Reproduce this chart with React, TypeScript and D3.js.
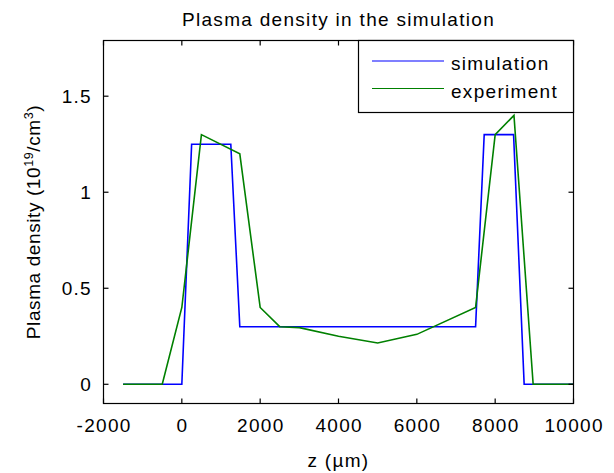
import React from "react";
import * as d3 from "d3";

const simZ = [-1500, 0, 250, 1250, 1480, 7500, 7720, 8470, 8740, 10000];
const simN = [0, 0, 1.25, 1.25, 0.3, 0.3, 1.3, 1.3, 0, 0];
const expZ = [-1500, -500, 0, 500, 1480, 2000, 2500, 3000, 4000, 5000, 6000, 7500, 8000, 8480, 8970, 10000];
const expN = [0, 0, 0.4, 1.3, 1.2, 0.4, 0.3, 0.295, 0.25, 0.215, 0.26, 0.4, 1.3, 1.4, 0, 0];
const xTicks = [-2000, 0, 2000, 4000, 6000, 8000, 10000];
const yTicks = [0, 0.5, 1, 1.5];
const yTickLabels = ["0", "0.5", "1", "1.5"];
const seriesNames = ["simulation", "experiment"];
const seriesColors = ["#0000ff", "#008000"];

const W = 614, H = 473;
const L = 103.5, R = 573.5, T = 40.5, B = 403.5;
const FONT = "'Liberation Sans', Arial, Helvetica, sans-serif";
const FS = 19;
const LS = 1.3;

export default function App() {
  const x = d3.scaleLinear().domain([-2000, 10000]).range([L, R]);
  const y = d3.scaleLinear().domain([-0.1, 1.79]).range([B, T]);
  const line = d3.line<[number, number]>().x(d => x(d[0])).y(d => y(d[1]));
  const simPts: [number, number][] = simZ.map((z, i) => [z, simN[i]]);
  const expPts: [number, number][] = expZ.map((z, i) => [z, expN[i]]);
  const tl = 5;
  const legY = [61, 88.5];
  return (
    <svg width={W} height={H} style={{ position: "absolute", left: 0, top: 0, background: "#fff" }}
      fontFamily={FONT}>
      <rect x={0} y={0} width={W} height={H} fill="#fff" />
      <text x={(L + R) / 2} y={26} textAnchor="middle" fontSize={FS} letterSpacing={LS} fill="#000">
        Plasma density in the simulation
      </text>
      <defs>
        <clipPath id="plotclip"><rect x={L} y={T} width={R - L} height={B - T} /></clipPath>
      </defs>
      <g clipPath="url(#plotclip)" fill="none" strokeWidth={1.6} strokeLinejoin="miter">
        <path d={line(simPts) || ""} stroke={seriesColors[0]} />
        <path d={line(expPts) || ""} stroke={seriesColors[1]} />
      </g>
      <g stroke="#000" strokeWidth={1.2}>
        {xTicks.map(t => (
          <g key={"xt" + t}>
            <line x1={x(t)} x2={x(t)} y1={B} y2={B - tl} />
            <line x1={x(t)} x2={x(t)} y1={T} y2={T + tl} />
          </g>
        ))}
        {yTicks.map(t => (
          <g key={"yt" + t}>
            <line x1={L} x2={L + tl} y1={y(t)} y2={y(t)} />
            <line x1={R} x2={R - tl} y1={y(t)} y2={y(t)} />
          </g>
        ))}
        <rect x={L} y={T} width={R - L} height={B - T} fill="none" />
      </g>
      <g fontSize={FS} letterSpacing={LS} fill="#000">
        {xTicks.map(t => (
          <text key={"xl" + t} x={x(t) + LS / 2} y={432} textAnchor="middle">{String(t)}</text>
        ))}
        {yTicks.map((t, i) => (
          <text key={"yl" + t} x={92} y={y(t) + 7} textAnchor="end">{yTickLabels[i]}</text>
        ))}
      </g>
      <text x={(L + R) / 2} y={467} textAnchor="middle" fontSize={FS} letterSpacing={LS}>z (µm)</text>
      <text transform={`translate(40, ${(T + B) / 2}) rotate(-90)`} textAnchor="middle" fontSize={FS} letterSpacing={0.6}>
        Plasma density (10<tspan fontSize={12.5} dy={-7.5}>19</tspan><tspan dy={7.5}>/cm</tspan><tspan fontSize={12.5} dy={-7.5}>3</tspan><tspan dy={7.5}>)</tspan>
      </text>
      <g>
        <rect x={358.5} y={T} width={R - 358.5} height={112.5 - T} fill="#fff" stroke="#000" strokeWidth={1.2} />
        {seriesNames.map((n, i) => (
          <g key={n}>
            <line x1={372} x2={444} y1={legY[i]} y2={legY[i]} stroke={seriesColors[i]} strokeWidth={1.2} />
            <text x={451} y={legY[i] + 9} fontSize={FS} letterSpacing={LS}>{n}</text>
          </g>
        ))}
      </g>
    </svg>
  );
}
